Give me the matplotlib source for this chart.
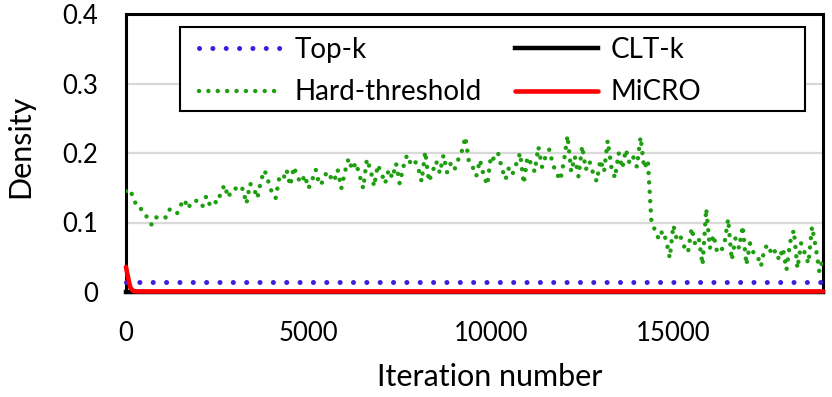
import numpy as np
import matplotlib
matplotlib.use("Agg")
import matplotlib.pyplot as plt
from matplotlib.patches import Rectangle

plt.rcParams['font.family'] = ['Lato', 'DejaVu Sans']

# ---- data ----
hard_iters = list(range(0, 19101, 100))
hard_vals = [
    # 0 - 4700
    0.145, 0.148, 0.136, 0.122, 0.120, 0.115, 0.105, 0.097, 0.107, 0.108,
    0.109, 0.107, 0.119, 0.115, 0.113, 0.125, 0.133, 0.120, 0.130, 0.131,
    0.132, 0.124, 0.138, 0.125, 0.131, 0.128, 0.143, 0.154, 0.136, 0.147,
    0.149, 0.144, 0.149, 0.127, 0.156, 0.150, 0.135, 0.161, 0.175, 0.159,
    0.143, 0.135, 0.164, 0.161, 0.176, 0.153, 0.180, 0.165,
    # 4800 - 9500
    0.157, 0.168, 0.149, 0.161, 0.176, 0.154, 0.159, 0.173, 0.166, 0.159,
    0.176, 0.149, 0.173, 0.192, 0.176, 0.186, 0.168, 0.149, 0.191, 0.176,
    0.152, 0.183, 0.171, 0.156, 0.176, 0.164, 0.185, 0.156, 0.180, 0.197,
    0.185, 0.190, 0.180, 0.159, 0.202, 0.159, 0.173, 0.188, 0.171, 0.197,
    0.172, 0.185, 0.176, 0.190, 0.202, 0.223, 0.186, 0.180,
    # 9600 - 14300
    0.167, 0.190, 0.168, 0.154, 0.196, 0.190, 0.199, 0.178, 0.162, 0.180,
    0.171, 0.185, 0.200, 0.156, 0.194, 0.185, 0.173, 0.209, 0.180, 0.195,
    0.205, 0.183, 0.171, 0.161, 0.188, 0.225, 0.173, 0.195, 0.166, 0.210,
    0.176, 0.188, 0.171, 0.159, 0.190, 0.173, 0.218, 0.180, 0.164, 0.200,
    0.178, 0.205, 0.185, 0.194, 0.180, 0.223, 0.178, 0.190,
    # 14400 - 19100
    0.099, 0.089, 0.076, 0.088, 0.075, 0.049, 0.096, 0.074, 0.079, 0.065,
    0.057, 0.092, 0.068, 0.076, 0.039, 0.120, 0.063, 0.082, 0.057, 0.058,
    0.070, 0.105, 0.046, 0.077, 0.063, 0.095, 0.039, 0.070, 0.056, 0.053,
    0.037, 0.063, 0.068, 0.053, 0.060, 0.046, 0.063, 0.032, 0.072, 0.089,
    0.034, 0.070, 0.056, 0.041, 0.094, 0.065, 0.029, 0.049,
]

topk_iters = [0, 19100]
topk_vals = [0.0145, 0.0145]

cltk_iters = [0, 19100]
cltk_vals = [0.0005, 0.0005]

micro_iters = [0, 60, 120, 200, 300, 19100]
micro_vals = [0.036, 0.020, 0.006, 0.0015, 0.0008, 0.0008]

x_ticks = [0, 5000, 10000, 15000]
x_tick_labels = ['0', '5000', '10000', '15000']
y_ticks = [0, 0.1, 0.2, 0.3, 0.4]
y_tick_labels = ['0', '0.1', '0.2', '0.3', '0.4']

# ---- figure ----
W, H = 832, 397
fig = plt.figure(figsize=(W / 100, H / 100), dpi=100)
L, R, T, B = 126, 823, 14, 292
ax = fig.add_axes([L / W, 1 - B / H, (R - L) / W, (B - T) / H])

green = '#1E9E10'
blue = '#3C1EDC'
red = '#FF0000'

l_topk, = ax.plot(topk_iters, topk_vals, color=blue, lw=3.6,
                  linestyle=(0, (0.01, 2.66)), dash_capstyle='round',
                  label='Top-k', zorder=4, clip_on=False)
l_hard, = ax.plot(hard_iters, hard_vals, color=green, lw=3.2,
                  linestyle=(0, (0.01, 2.1)), dash_capstyle='round',
                  label='Hard-threshold', zorder=3)
l_clt, = ax.plot(cltk_iters, cltk_vals, color='black', lw=3.2,
                 label='CLT-k', zorder=5, clip_on=False)
l_micro, = ax.plot(micro_iters, micro_vals, color=red, lw=3.3,
                   solid_capstyle='round', label='MiCRO', zorder=6, clip_on=False)

ax.set_xlim(0, 19100)
ax.set_ylim(0, 0.4)
ax.set_xticks(x_ticks)
ax.set_xticklabels(x_tick_labels)
ax.set_yticks(y_ticks)
ax.set_yticklabels(y_tick_labels)
ax.tick_params(length=0, labelsize=18.5, colors='black')
ax.tick_params(axis='y', pad=20)
ax.tick_params(axis='x', pad=21)

ax.grid(axis='y', color='#D9D9D9', lw=1.6, zorder=0)
ax.set_axisbelow(True)
for s in ax.spines.values():
    s.set_linewidth(2.2)
    s.set_color('black')

ax.set_xlabel('Iteration number', fontsize=22)
ax.xaxis.label.set_va('center')
ax.xaxis.set_label_coords((490 - L) / (R - L), (B - 377) / (B - T))
ax.set_ylabel('Density', fontsize=22)
ax.yaxis.label.set_va('center')
ax.yaxis.set_label_coords((20 - L) / (R - L), (B - 146) / (B - T))

leg = ax.legend(handles=[l_topk, l_hard, l_clt, l_micro], ncol=2,
                loc='upper left',
                bbox_to_anchor=((189 - L) / (R - L), (B - 27) / (B - T)),
                fontsize=20, frameon=False,
                handlelength=3.0, handletextpad=0.45,
                columnspacing=1.2, borderpad=0.35, labelspacing=0.6,
                borderaxespad=0)
leg.set_zorder(10)

# legend frame (Excel-style, wider than its content)
frame = Rectangle((180 / W, 1 - 111 / H), (805 - 180) / W, (111 - 27) / H,
                  transform=fig.transFigure, facecolor='white',
                  edgecolor='black', lw=1.5, zorder=9)
fig.add_artist(frame)
fig.add_artist(leg)

fig.savefig('out.png', dpi=100)
